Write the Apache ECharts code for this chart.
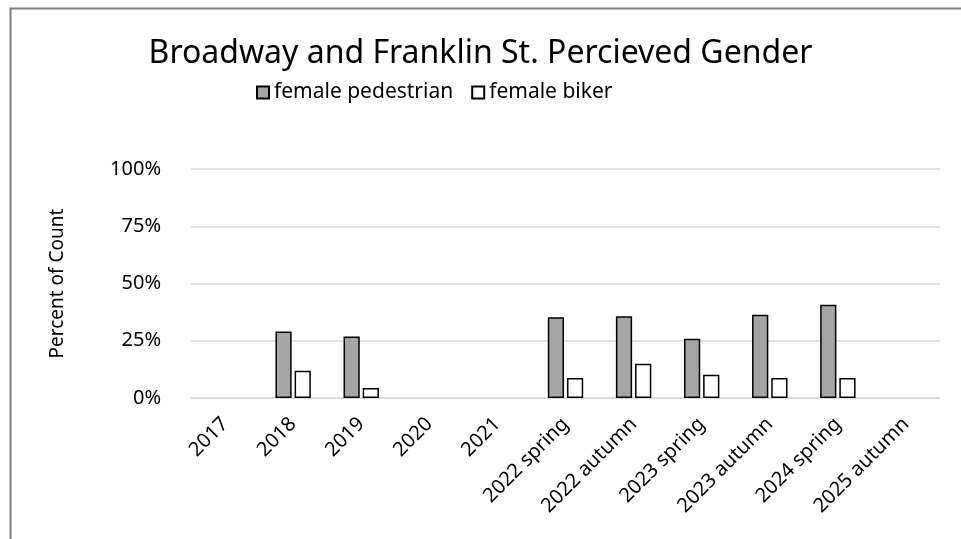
<!DOCTYPE html>
<html>
<head>
<meta charset="utf-8">
<script src="https://cdn.jsdelivr.net/npm/echarts@6/dist/echarts.min.js"></script>
<style>
  html, body { margin: 0; padding: 0; background: #fff; }
  #main { width: 961px; height: 539px; }
</style>
</head>
<body>
<div id="main"></div>
<script>
var categories = ['2017', '2018', '2019', '2020', '2021', '2022 spring', '2022 autumn',
  '2023 spring', '2023 autumn', '2024 spring', '2025 autumn'];
var pedestrian = [null, 29.0, 26.9, null, null, 35.3, 35.7, 25.9, 36.3, 40.7, null];
var biker = [null, 11.9, 4.4, null, null, 8.7, 15.0, 10.2, 8.7, 8.7, null];
var yTicks = [0, 25, 50, 75, 100];

var myChart = echarts.init(document.getElementById('main'));
var font = 'Noto Sans';

var option = {
  animation: false,
  backgroundColor: '#fff',
  textStyle: { fontFamily: font, color: '#000' },
  title: {
    text: 'Broadway and Franklin St. Percieved Gender',
    left: 'center',
    top: 33,
    textStyle: { fontFamily: font, fontSize: 32, fontWeight: 'normal', color: '#000' }
  },
  legend: {
    top: 77,
    left: 251,
    itemWidth: 12,
    itemHeight: 12,
    itemGap: 18,
    icon: 'rect',
    textStyle: { fontFamily: font, fontSize: 21, color: '#000' },
    data: ['female pedestrian', 'female biker']
  },
  graphic: [{
    type: 'rect',
    left: 8, top: 6,
    shape: { width: 1000, height: 600 },
    style: { fill: 'none', stroke: '#7f7f7f', lineWidth: 2 },
    silent: true
  }],
  grid: { left: 191, right: 21, top: 169, bottom: 141 },
  xAxis: {
    type: 'category',
    data: categories,
    axisTick: { show: false },
    axisLine: { lineStyle: { color: '#d9d9d9', width: 1.5 } },
    axisLabel: { rotate: 45, fontSize: 20, color: '#000', fontFamily: font, margin: 23, interval: 0 }
  },
  yAxis: {
    type: 'value',
    min: yTicks[0],
    max: yTicks[yTicks.length - 1],
    interval: 25,
    name: 'Percent of Count',
    nameLocation: 'middle',
    nameGap: 124,
    nameTextStyle: { fontSize: 19, color: '#000', fontFamily: font },
    axisLine: { show: false },
    axisTick: { show: false },
    splitLine: { lineStyle: { color: '#d9d9d9', width: 1.5 } },
    axisLabel: { formatter: '{value}%', fontSize: 20, color: '#000', fontFamily: font, margin: 30 }
  },
  series: [{
    name: 'female pedestrian',
    type: 'bar',
    data: pedestrian,
    barGap: '18%',
    barCategoryGap: '48%',
    itemStyle: { color: '#a5a5a5', borderColor: '#000', borderWidth: 1.5 }
  }, {
    name: 'female biker',
    type: 'bar',
    data: biker,
    itemStyle: { color: '#fff', borderColor: '#000', borderWidth: 1.5 }
  }]
};

myChart.setOption(option);
</script>
</body>
</html>
